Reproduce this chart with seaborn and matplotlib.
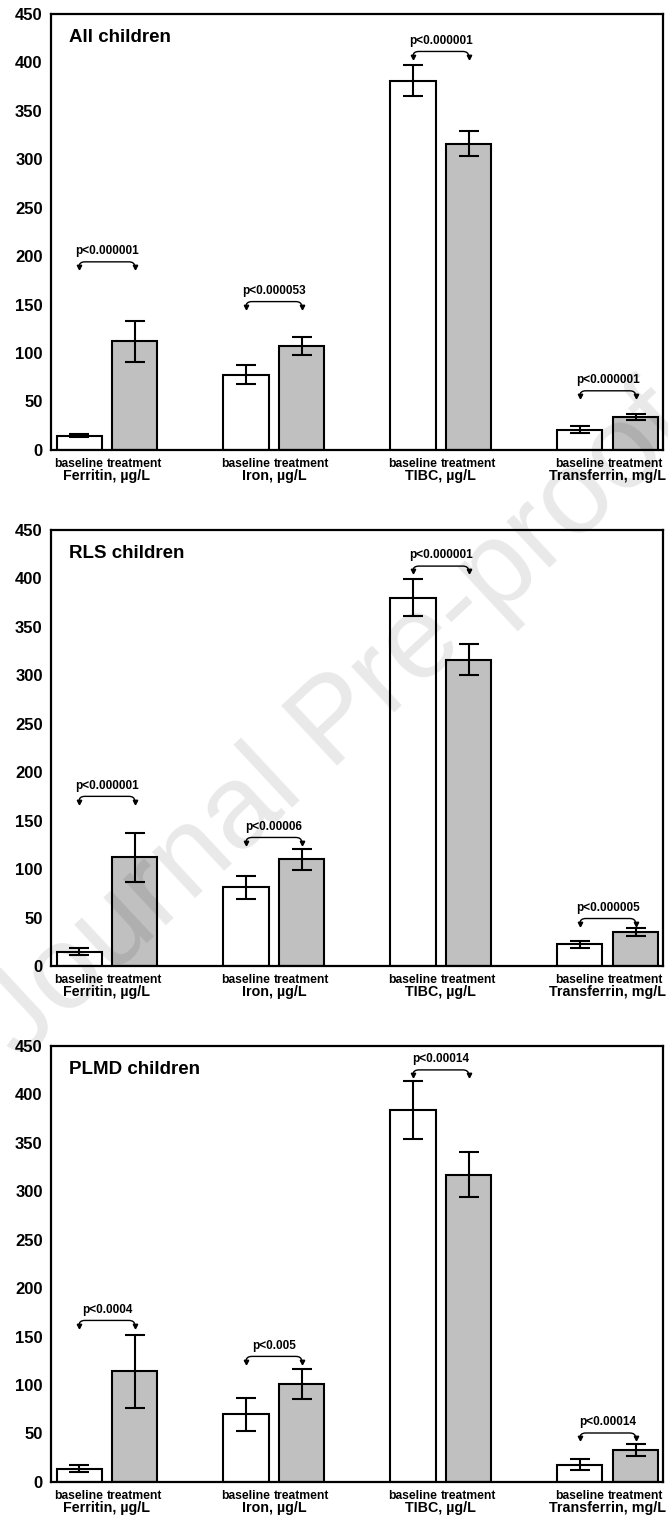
import pandas as pd
import seaborn as sns
import matplotlib.pyplot as plt
from matplotlib.path import Path
from matplotlib.patches import PathPatch

# data (mean +- error)
measures = ['Ferritin, µg/L', 'Iron, µg/L', 'TIBC, µg/L', 'Transferrin, mg/L']
groups = ['baseline', 'treatment']
titles = ['All children', 'RLS children', 'PLMD children']

all_base = [14.5, 77.5, 381, 21]
all_base_err = [1.5, 10, 16, 3.5]
all_treat = [112, 107, 316, 34]
all_treat_err = [21, 9, 13, 3.3]

rls_base = [14.7, 81, 380, 22.5]
rls_base_err = [3.5, 12, 19, 3.8]
rls_treat = [112, 110, 316, 35]
rls_treat_err = [25, 11, 16, 4]

plmd_base = [13.7, 70, 384, 18]
plmd_base_err = [3.4, 17, 30, 5.5]
plmd_treat = [114, 101, 317, 32.7]
plmd_treat_err = [38, 15, 23, 6.3]

all_p = ['p<0.000001', 'p<0.000053', 'p<0.000001', 'p<0.000001']
rls_p = ['p<0.000001', 'p<0.00006', 'p<0.000001', 'p<0.000005']
plmd_p = ['p<0.0004', 'p<0.005', 'p<0.00014', 'p<0.00014']

# height of the p-value brackets
all_brk = [194, 153, 411, 61]
rls_brk = [175, 132.6, 412.5, 49]
plmd_brk = [166.6, 129.5, 425, 50.5]

panels = [
    (all_base, all_base_err, all_treat, all_treat_err, all_p, all_brk),
    (rls_base, rls_base_err, rls_treat, rls_treat_err, rls_p, rls_brk),
    (plmd_base, plmd_base_err, plmd_treat, plmd_treat_err, plmd_p, plmd_brk),
]

sns.set_style('white')
plt.rcParams['font.family'] = ['Liberation Sans', 'DejaVu Sans']
plt.rcParams['font.weight'] = 'bold'
plt.rcParams['text.color'] = 'black'
plt.rcParams['xtick.color'] = 'black'
plt.rcParams['ytick.color'] = 'black'


def bracket(ax, xl, xr, top):
    # curly-ended bracket with small arrow tips pointing down
    d = 0.035
    verts = [(xl, top - 5), (xl, top), (xl + d, top), (xr - d, top),
             (xr, top), (xr, top - 5)]
    codes = [Path.MOVETO, Path.CURVE3, Path.CURVE3, Path.LINETO,
             Path.CURVE3, Path.CURVE3]
    ax.add_patch(PathPatch(Path(verts, codes), fill=False, lw=1.0,
                           edgecolor='black', zorder=3))
    ax.plot([xl, xr], [top - 5.5, top - 5.5], ls='none', marker='v',
            markersize=3.2, color='black', zorder=3)


fig = plt.figure(figsize=(6.68, 15.17), dpi=100)
bottoms = [0.7034, 0.3632, 0.0231]

for k, (base, base_err, treat, treat_err, plabs, brk) in enumerate(panels):
    ax = fig.add_axes([0.0763, bottoms[k], 0.916, 0.2876])
    df = pd.DataFrame({'measure': measures * 2,
                       'group': ['baseline'] * 4 + ['treatment'] * 4,
                       'value': base + treat})
    sns.barplot(data=df, x='measure', y='value', hue='group',
                palette={'baseline': 'white', 'treatment': '#c0c0c0'},
                edgecolor='black', linewidth=1.5, width=0.667, gap=0.19,
                errorbar=None, legend=False, ax=ax)

    # error bars on top of each bar
    centers = []
    for cont, errs in zip(ax.containers, [base_err, treat_err]):
        xs = [p.get_x() + p.get_width() / 2 for p in cont]
        hs = [p.get_height() for p in cont]
        centers.append(xs)
        ax.errorbar(xs, hs, yerr=errs, fmt='none', ecolor='black',
                    elinewidth=1.5, capsize=7, capthick=1.5, zorder=3)

    # group words under each bar
    for xs, word in zip(centers, groups):
        for xc in xs:
            ax.annotate(word, xy=(xc, 0), xycoords=('data', 'axes fraction'),
                        xytext=(0, -10), textcoords='offset points',
                        ha='center', va='center', fontsize=8.7, fontweight='bold')

    # p-value brackets
    for i in range(4):
        bracket(ax, centers[0][i], centers[1][i], brk[i])
        ax.text(i, brk[i] + 11, plabs[i], ha='center', va='center',
                fontsize=8.5, fontweight='bold')

    ax.text(0.029, 0.945, titles[k], transform=ax.transAxes, fontsize=13.5,
            fontweight='bold', ha='left', va='center')

    ax.set_xlim(-0.335, 3.33)
    ax.set_ylim(0, 450)
    ax.set_yticks(range(0, 451, 50))
    ax.set_xticks(range(4))
    ax.set_xticklabels(measures, fontsize=10.3, fontweight='bold')
    ax.tick_params(axis='x', length=0, pad=14)
    ax.tick_params(axis='y', length=0, pad=6, labelsize=12)
    ax.set_xlabel('')
    ax.set_ylabel('')
    for sp in ax.spines.values():
        sp.set_visible(True)
        sp.set_color('black')
        sp.set_linewidth(1.6)

fig.text(0.503, 0.522, 'Journal Pre-proof', rotation=43, fontsize=86,
         color='black', alpha=0.09, ha='center', va='center',
         fontweight='normal', rotation_mode='anchor', zorder=10)

fig.savefig('out.png', dpi=100)
